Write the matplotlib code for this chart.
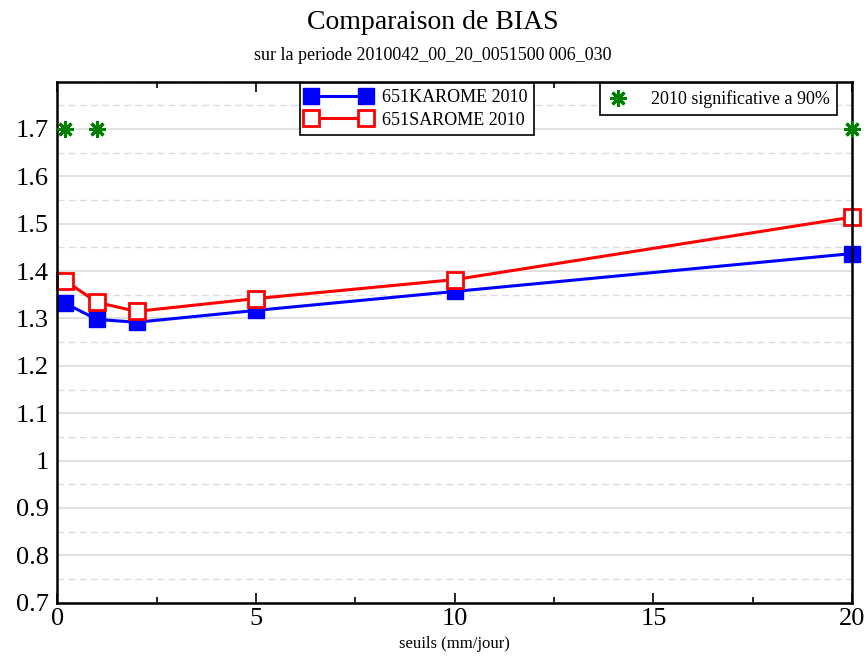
import matplotlib
matplotlib.use("Agg")
import matplotlib.pyplot as plt
from matplotlib.ticker import MultipleLocator

# thresholds (mm/jour) and BIAS per experiment
seuils = [0.2, 1, 2, 5, 10, 20]
bias_kar = [1.332, 1.298, 1.292, 1.317, 1.357, 1.437]
bias_sar = [1.380, 1.334, 1.315, 1.342, 1.382, 1.514]
signif_x = [0.2, 1, 20]
signif_y = [1.7, 1.7, 1.7]

plt.rcParams["font.family"] = ["Liberation Serif", "DejaVu Serif"]

fig = plt.figure(figsize=(8.66, 6.58), dpi=100)
ax = fig.add_axes([0.066, 0.084, 0.918, 0.792])

l1, = ax.plot(seuils, bias_kar, color="blue", lw=2.2, marker="s", ms=12,
              mfc="blue", mec="blue", label="651KAROME 2010", clip_on=False)
l2, = ax.plot(seuils, bias_sar, color="red", lw=2.2, marker="s", ms=12,
              mfc="white", mec="red", mew=2, label="651SAROME 2010", clip_on=False)
st, = ax.plot(signif_x, signif_y, ls="none", marker=(8, 2, 0), ms=12,
              mec="green", mew=2.2, color="green", label="2010 significative a 90%",
              clip_on=False, zorder=5)

ax.set_xlim(0, 20)
ax.set_ylim(0.7, 1.8)
ax.set_yticks([0.7, 0.8, 0.9, 1.0, 1.1, 1.2, 1.3, 1.4, 1.5, 1.6, 1.7])
ax.set_yticklabels(["0.7", "0.8", "0.9", "1", "1.1", "1.2", "1.3", "1.4",
                    "1.5", "1.6", "1.7"])
ax.yaxis.set_minor_locator(MultipleLocator(0.05))
ax.xaxis.set_major_locator(MultipleLocator(5))
ax.xaxis.set_minor_locator(MultipleLocator(2.5))
ax.grid(axis="y", which="major", color="#dcdcdc", lw=1.2, ls="-")
ax.grid(axis="y", which="minor", color="#dcdcdc", lw=1.0, ls=(0, (5, 3)))
ax.set_axisbelow(True)

ax.tick_params(which="both", direction="in", top=True, right=False,
               labelsize=19, pad=4)
ax.tick_params(axis="x", which="major", length=7, width=1.2)
ax.tick_params(axis="x", which="minor", length=4, width=1.2)
ax.tick_params(axis="y", which="both", length=0, pad=6)
for s in ax.spines.values():
    s.set_linewidth(1.8)

ax.set_xlabel("seuils (mm/jour)", fontsize=12, labelpad=4)
fig.text(0.5, 0.966, "Comparaison de BIAS", ha="center", va="center", fontsize=20)
fig.text(0.5, 0.916, "sur la periode 2010042_00_20_0051500 006_030",
         ha="center", va="center", fontsize=13)

leg1 = fig.legend(handles=[l1, l2], loc="upper left",
                  bbox_to_anchor=(0.346, 0.874), borderaxespad=0, fontsize=13,
                  handlelength=3.6, numpoints=2, fancybox=False,
                  edgecolor="black", framealpha=1, borderpad=0.35,
                  labelspacing=0.3, handletextpad=0.6)
leg1.get_frame().set_linewidth(1.2)
leg2 = fig.legend(handles=[st], loc="upper left",
                  bbox_to_anchor=(0.693, 0.874), borderaxespad=0, fontsize=13,
                  handlelength=1.2, handletextpad=1.2, fancybox=False,
                  edgecolor="black", framealpha=1, borderpad=0.4)
leg2.get_frame().set_linewidth(1.2)

fig.savefig("out.png", dpi=100)
